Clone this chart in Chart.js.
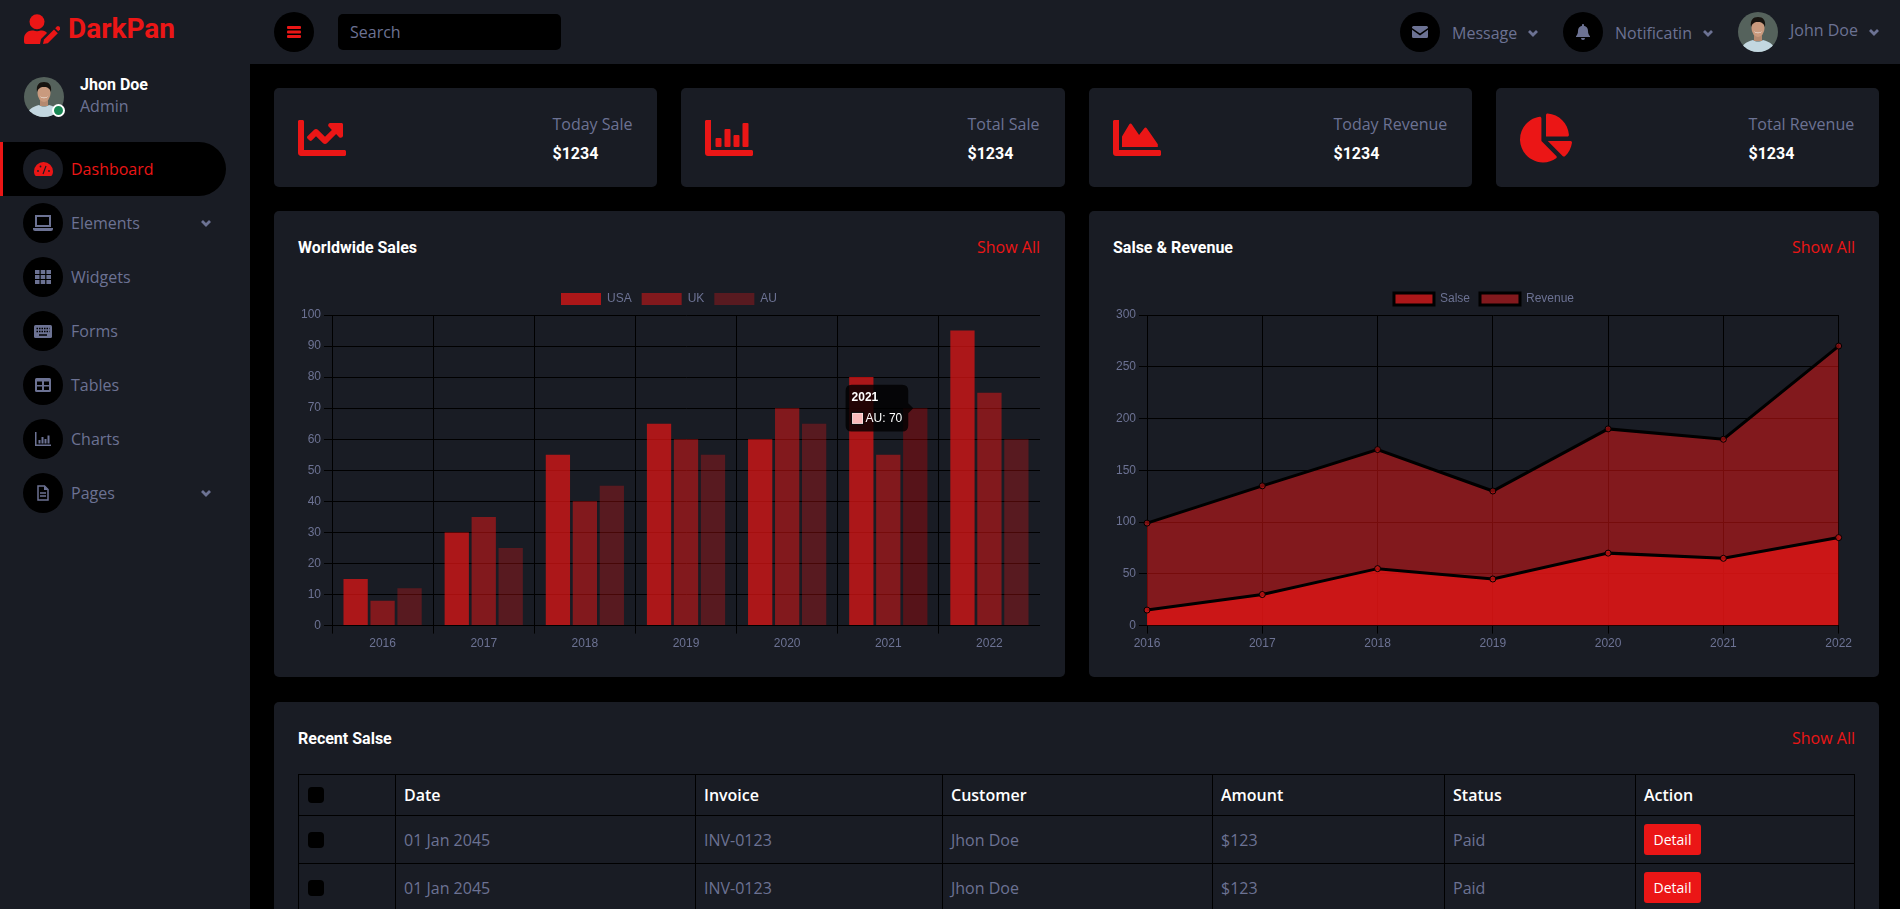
<!DOCTYPE html>
<html lang="en"><head><meta charset="utf-8"><title>DarkPan</title>
<script src="https://cdn.jsdelivr.net/npm/chart.js@4/dist/chart.umd.min.js"></script>
<style>
*{box-sizing:border-box}
html,body{margin:0;height:909px;width:1900px;overflow:hidden;background:#000;font:400 16px/1.5 "Open Sans",sans-serif;color:#6C7293}
.abs,.card,.t,.ic,.circle{position:absolute}
.bar{background:#191C24}
.card{background:#191C24;border-radius:5px}
.t{white-space:nowrap;line-height:24px}
.h{font-family:Roboto,sans-serif;font-weight:700;color:#fff;line-height:20px}
.red{color:#EB1616}
.circle{width:40px;height:40px;border-radius:50%;background:#000;display:flex;align-items:center;justify-content:center}
svg{display:block}
.canv{position:absolute;width:742px;height:371px}
table{position:absolute;left:298px;top:774px;width:1557px;border-collapse:collapse;table-layout:fixed}
th,td{border:1px solid #000;padding:6px 8px;text-align:left;vertical-align:middle}
th{color:#fff;font-weight:600;height:41px}
td{height:48px}
.cb{display:block;width:16px;height:16px;background:#000;border-radius:4px;margin-left:1px}
.btn{display:inline-block;width:57px;height:31px;line-height:31px;text-align:center;background:#EB1616;color:#fff;font-size:14px;border-radius:3px;vertical-align:middle}
</style></head><body>
<div class="abs bar" style="left:0;top:0;width:250px;height:909px"></div>
<div class="abs bar" style="left:250px;top:0;width:1650px;height:64px"></div>

<!-- logo -->
<svg class="abs" style="left:24px;top:14px" width="36" height="30" viewBox="0 0 36 30"><circle cx="13" cy="7.700" r="7.500" fill="#EB1616"/><path d="M2 30a2 2 0 0 1-2-2v-3c0-5.500 4-8.500 8-8.500h1.500c2 1 5 1 7 0H18c2 0 4 1 5 2.500l-6 6-1 5z" fill="#EB1616"/><path d="M19 30l1-4.500 10-10 3.800 3.800-10 10z" fill="#EB1616"/><path d="M31.200 14.200l1.800-1.700a1.500 1.500 0 0 1 2 0l1 1a1.500 1.500 0 0 1 0 2L34.300 17.200z" fill="#EB1616"/></svg>
<div class="t" style="left:68px;top:14px;font:700 28px/30px Roboto,sans-serif;color:#EB1616">DarkPan</div>

<!-- top bar -->
<div class="circle" style="left:274px;top:12px"><svg width="14" height="12"><rect width="14" height="3" rx="1" fill="#EB1616"/><rect y="4.500" width="14" height="3" rx="1" fill="#EB1616"/><rect y="9" width="14" height="3" rx="1" fill="#EB1616"/></svg></div>
<div class="abs" style="left:338px;top:14px;width:223px;height:36px;background:#000;border-radius:5px"></div>
<div class="t" style="left:350px;top:20px">Search</div>

<div class="circle" style="left:1400px;top:12px"><svg width="16" height="12" viewBox="0 0 16 12"><path d="M1.500 0h13A1.500 1.500 0 0 1 16 1.500v.4L8 7.600 0 1.900v-.4A1.500 1.500 0 0 1 1.500 0z" fill="#6C7293"/><path d="M0 3.800l8 5.600 8-5.600v6.700a1.500 1.500 0 0 1-1.500 1.500h-13A1.500 1.500 0 0 1 0 10.500z" fill="#6C7293"/></svg></div>
<div class="t" style="left:1452px;top:21px">Message</div>
<svg class="abs" style="left:1528px;top:29px" width="10" height="8" viewBox="0 0 10 8"><path d="M1 2l4 4 4-4" stroke="#6C7293" stroke-width="2.800" fill="none"/></svg>
<div class="circle" style="left:1563px;top:12px"><svg width="14" height="16" viewBox="0 0 14 16"><path d="M7 0c.7 0 1 .5 1 1v.8c2.500.5 4 2.500 4 5 0 3 .8 4 2 5.500v.7H0v-.7c1.200-1.500 2-2.500 2-5.500 0-2.500 1.500-4.500 4-5V1c0-.5.3-1 1-1zM5 14h4a2 2 0 0 1-4 0z" fill="#6C7293"/></svg></div>
<div class="t" style="left:1615px;top:21px">Notificatin</div>
<svg class="abs" style="left:1703px;top:29px" width="10" height="8" viewBox="0 0 10 8"><path d="M1 2l4 4 4-4" stroke="#6C7293" stroke-width="2.800" fill="none"/></svg>
<svg class="abs" style="left:1738px;top:12px" width="40" height="40" viewBox="0 0 40 40"><defs><clipPath id="a1"><circle cx="20" cy="20" r="20"/></clipPath></defs><g clip-path="url(#a1)"><rect width="40" height="40" fill="#55625c"/><path d="M2 40c1-7 6-10 13-12 3 2 7 2 10 0 7 2 12 5 13 12z" fill="#c3d7e0"/><rect x="16" y="21" width="8" height="8" fill="#b58a70"/><ellipse cx="20" cy="16" rx="6.500" ry="9" fill="#c99a7e"/><path d="M13 15c-1-7 2-10 7-10s8 3 7 10c-1-3-3-5-7-5s-6 2-7 5z" fill="#17130f"/><path d="M16 19c2 2 6 2 8 0-1 3-7 3-8 0z" fill="#f2ece6"/></g></svg>
<div class="t" style="left:1790px;top:18px">John Doe</div>
<svg class="abs" style="left:1869px;top:28px" width="10" height="8" viewBox="0 0 10 8"><path d="M1 2l4 4 4-4" stroke="#6C7293" stroke-width="2.800" fill="none"/></svg>

<!-- sidebar profile -->
<svg class="abs" style="left:24px;top:77px" width="40" height="40" viewBox="0 0 40 40"><defs><clipPath id="a2"><circle cx="20" cy="20" r="20"/></clipPath></defs><g clip-path="url(#a2)"><rect width="40" height="40" fill="#55625c"/><path d="M2 40c1-7 6-10 13-12 3 2 7 2 10 0 7 2 12 5 13 12z" fill="#c3d7e0"/><rect x="16" y="21" width="8" height="8" fill="#b58a70"/><ellipse cx="20" cy="16" rx="6.500" ry="9" fill="#c99a7e"/><path d="M13 15c-1-7 2-10 7-10s8 3 7 10c-1-3-3-5-7-5s-6 2-7 5z" fill="#17130f"/><path d="M16 19c2 2 6 2 8 0-1 3-7 3-8 0z" fill="#f2ece6"/></g></svg>
<div class="abs" style="left:52px;top:104px;width:13px;height:13px;border-radius:50%;background:#198754;border:2px solid #fff"></div>
<div class="t h" style="left:80px;top:75px">Jhon Doe</div>
<div class="t" style="left:80px;top:94px">Admin</div>

<!-- side nav -->
<div class="abs" style="left:0;top:142px;width:226px;height:54px;background:#000;border-left:3px solid #EB1616;border-radius:0 30px 30px 0"></div>
<div class="circle" style="left:23px;top:149px;background:#191C24"><svg width="19" height="14" viewBox="0 0 19 14"><path d="M9.500 0A9.500 9.500 0 0 0 0 9.500c0 1.500.5 3 1.200 4 .2.300.5.500.8.500h15c.3 0 .6-.2.800-.5.700-1 1.200-2.500 1.200-4A9.500 9.500 0 0 0 9.500 0z" fill="#EB1616"/><path d="M9 12l3-8" stroke="#191C24" stroke-width="1.200"/><circle cx="4" cy="9" r=".9" fill="#191C24"/><circle cx="6.500" cy="4.500" r=".9" fill="#191C24"/><circle cx="15" cy="9" r=".9" fill="#191C24"/></svg></div>
<div class="t red" style="left:71px;top:157px">Dashboard</div>

<div class="circle" style="left:23px;top:203px"><svg width="20" height="16" viewBox="0 0 20 16"><path d="M3 1h14v10H3z" fill="none" stroke="#6C7293" stroke-width="2"/><path d="M0 13h20v1a2 2 0 0 1-2 2H2a2 2 0 0 1-2-2z" fill="#6C7293"/></svg></div>
<div class="t" style="left:71px;top:211px">Elements</div>
<svg class="abs" style="left:201px;top:219px" width="10" height="8" viewBox="0 0 10 8"><path d="M1 2l4 4 4-4" stroke="#6C7293" stroke-width="2.800" fill="none"/></svg>

<div class="circle" style="left:23px;top:257px"><svg width="16" height="14" viewBox="0 0 16 14" fill="#6C7293"><rect width="4.500" height="4"/><rect x="5.700" width="4.500" height="4"/><rect x="11.400" width="4.600" height="4"/><rect y="5" width="4.500" height="4"/><rect x="5.700" y="5" width="4.500" height="4"/><rect x="11.400" y="5" width="4.600" height="4"/><rect y="10" width="4.500" height="4"/><rect x="5.700" y="10" width="4.500" height="4"/><rect x="11.400" y="10" width="4.600" height="4"/></svg></div>
<div class="t" style="left:71px;top:265px">Widgets</div>

<div class="circle" style="left:23px;top:311px"><svg width="18" height="13" viewBox="0 0 18 13"><rect width="18" height="13" rx="1.500" fill="#6C7293"/><path d="M2.500 3.500h13M2.500 6.500h13" stroke="#000" stroke-width="1.500" stroke-dasharray="1.500 1"/><path d="M5 10h8" stroke="#000" stroke-width="1.500"/></svg></div>
<div class="t" style="left:71px;top:319px">Forms</div>

<div class="circle" style="left:23px;top:365px"><svg width="16" height="14" viewBox="0 0 16 14"><rect width="16" height="14" rx="1.500" fill="#6C7293"/><rect x="2" y="3.500" width="5" height="3.500" fill="#000"/><rect x="9" y="3.500" width="5" height="3.500" fill="#000"/><rect x="2" y="8.500" width="5" height="3.500" fill="#000"/><rect x="9" y="8.500" width="5" height="3.500" fill="#000"/></svg></div>
<div class="t" style="left:71px;top:373px">Tables</div>

<div class="circle" style="left:23px;top:419px"><svg width="16" height="14" viewBox="0 0 16 14" fill="#6C7293"><path d="M0 0h1.500v12.500H16V14H0z"/><rect x="3.500" y="8" width="2" height="3.500"/><rect x="6.500" y="5" width="2" height="6.500"/><rect x="9.500" y="7" width="2" height="4.500"/><rect x="12.500" y="3.500" width="2" height="8"/></svg></div>
<div class="t" style="left:71px;top:427px">Charts</div>

<div class="circle" style="left:23px;top:473px"><svg width="12" height="16" viewBox="0 0 12 16"><path d="M1 1h6.500L11 4.500V15H1z" fill="none" stroke="#6C7293" stroke-width="1.500"/><path d="M3 8h6M3 11h6" stroke="#6C7293" stroke-width="1.400"/><path d="M7 1v4h4" fill="#6C7293"/></svg></div>
<div class="t" style="left:71px;top:481px">Pages</div>
<svg class="abs" style="left:201px;top:489px" width="10" height="8" viewBox="0 0 10 8"><path d="M1 2l4 4 4-4" stroke="#6C7293" stroke-width="2.800" fill="none"/></svg>

<!-- stat cards -->
<div class="card" style="left:274px;top:88px;width:383px;height:99px"></div>
<div class="card" style="left:681px;top:88px;width:384px;height:99px"></div>
<div class="card" style="left:1089px;top:88px;width:383px;height:99px"></div>
<div class="card" style="left:1496px;top:88px;width:383px;height:99px"></div>

<svg class="abs" style="left:298px;top:114px" width="48" height="48" viewBox="0 0 512 512"><path fill="#EB1616" d="M496 384H64V80c0-8.840-7.160-16-16-16H16C7.160 64 0 71.160 0 80v336c0 17.670 14.330 32 32 32h464c8.840 0 16-7.160 16-16v-32c0-8.840-7.160-16-16-16zM464 96H345.940c-21.380 0-32.090 25.850-16.970 40.970l32.400 32.400L288 242.750l-73.370-73.370c-12.500-12.500-32.760-12.500-45.250 0l-68.690 68.690c-6.250 6.250-6.250 16.380 0 22.630l22.620 22.620c6.250 6.250 16.380 6.250 22.630 0L192 237.250l73.370 73.370c12.500 12.500 32.760 12.500 45.250 0l96-96 32.400 32.400c15.120 15.120 40.970 4.410 40.970-16.970V112c.01-8.840-7.150-16-15.990-16z"/></svg>
<svg class="abs" style="left:705px;top:114px" width="48" height="48" viewBox="0 0 512 512" fill="#EB1616"><path d="M16 64h48v320h432c9 0 16 7 16 16v32c0 9-7 16-16 16H32c-18 0-32-14-32-32V80c0-9 7-16 16-16z"/><rect x="112" y="256" width="64" height="96" rx="10"/><rect x="208" y="160" width="64" height="192" rx="10"/><rect x="304" y="224" width="64" height="128" rx="10"/><rect x="400" y="96" width="64" height="256" rx="10"/></svg>
<svg class="abs" style="left:1113px;top:114px" width="48" height="48" viewBox="0 0 512 512" fill="#EB1616"><path d="M16 64h48v320h432c9 0 16 7 16 16v32c0 9-7 16-16 16H32c-18 0-32-14-32-32V80c0-9 7-16 16-16z"/><path d="M96 352V240l78-130c6-10 20-10 26-1l78 116 56-74c7-9 20-8 26 1l118 170v30z"/></svg>
<svg class="abs" style="left:1520px;top:113px" width="52" height="50" viewBox="0 0 544 512" fill="#EB1616"><path d="M527.790 288H290.500l158.030 158.030c6.040 6.040 15.980 6.530 22.190.68 38.700-36.460 65.320-85.610 73.130-140.860 1.340-9.460-6.510-17.850-16.060-17.850zm-15.830-64.800C503.720 103.740 408.260 8.280 288.800.04 279.680-.59 272 7.100 272 16.240V240h223.770c9.140 0 16.820-7.680 16.190-16.800zM224 288V50.710c0-9.550-8.390-17.400-17.840-16.060C86.990 51.490-4.100 155.600.14 280.370 4.500 408.510 114.830 513.590 243.030 511.980c50.400-.63 96.970-16.870 135.260-44.030 7.900-5.600 8.420-17.230 1.570-24.080L224 288z"/></svg>

<div class="t" style="left:552.500px;top:112px">Today Sale</div><div class="t h" style="left:552.500px;top:144px">$1234</div>
<div class="t" style="left:967.500px;top:112px">Total Sale</div><div class="t h" style="left:967.500px;top:144px">$1234</div>
<div class="t" style="left:1333.500px;top:112px">Today Revenue</div><div class="t h" style="left:1333.500px;top:144px">$1234</div>
<div class="t" style="left:1748.500px;top:112px">Total Revenue</div><div class="t h" style="left:1748.500px;top:144px">$1234</div>

<!-- chart cards -->
<div class="card" style="left:274px;top:211px;width:791px;height:466px"></div>
<div class="card" style="left:1089px;top:211px;width:790px;height:466px"></div>
<div class="t h" style="left:298px;top:238px">Worldwide Sales</div>
<div class="t red" style="right:860px;top:235px">Show All</div>
<div class="t h" style="left:1113px;top:238px">Salse &amp; Revenue</div>
<div class="t red" style="right:45px;top:235px">Show All</div>
<div class="canv" style="left:298px;top:283px"><canvas id="worldwide"></canvas></div>
<div class="canv" style="left:1113px;top:283px"><canvas id="salse"></canvas></div>

<!-- table card -->
<div class="card" style="left:274px;top:702px;width:1605px;height:260px"></div>
<div class="t h" style="left:298px;top:729px">Recent Salse</div>
<div class="t red" style="right:45px;top:726px">Show All</div>
<table id="tbl"></table>

<script>
const years = ['2016','2017','2018','2019','2020','2021','2022'];
const usaValues = [15,30,55,65,60,80,95];
const ukValues = [8,35,40,60,70,55,75];
const auValues = [12,25,45,55,65,70,60];
const salseValues = [15,30,55,45,70,65,85];
const revenueValues = [99,135,170,130,190,180,270];
const tableHeaders = ['', 'Date','Invoice','Customer','Amount','Status','Action'];
const tableRow = ['01 Jan 2045','INV-0123','Jhon Doe','$123','Paid'];
const columnWidths = [97,300,247,270,232,191,219];

document.getElementById('tbl').style.width = columnWidths.reduce((a,b)=>a+b) + 'px';
document.getElementById('tbl').innerHTML =
  '<colgroup>' + columnWidths.map(w => `<col style="width:${w}px">`).join('') + '</colgroup>' +
  '<thead><tr>' + tableHeaders.map((h,i) => `<th>${i ? h : '<span class="cb"></span>'}</th>`).join('') + '</tr></thead>' +
  '<tbody>' + [0,1,2].map(() => '<tr><td><span class="cb"></span></td>' + tableRow.map(c => `<td>${c}</td>`).join('') + '<td><span class="btn">Detail</span></td></tr>').join('') + '</tbody>';

Chart.defaults.color = '#6C7293';
Chart.defaults.borderColor = '#000000';
Chart.defaults.animation = false;

const bar = new Chart(document.getElementById('worldwide'), {
  type: 'bar',
  data: { labels: years, datasets: [
    { label: 'USA', data: usaValues, backgroundColor: 'rgba(235,22,22,.7)' },
    { label: 'UK', data: ukValues, backgroundColor: 'rgba(235,22,22,.5)' },
    { label: 'AU', data: auValues, backgroundColor: 'rgba(235,22,22,.3)' }
  ]},
  options: { responsive: true, maintainAspectRatio: false, events: [] }
});
const active = [{ datasetIndex: 2, index: 5 }];
bar.setActiveElements(active);
bar.tooltip.setActiveElements(active, { x: 0, y: 0 });
bar.update();

new Chart(document.getElementById('salse'), {
  type: 'line',
  data: { labels: years, datasets: [
    { label: 'Salse', data: salseValues, backgroundColor: 'rgba(235,22,22,.7)', fill: true },
    { label: 'Revenue', data: revenueValues, backgroundColor: 'rgba(235,22,22,.5)', fill: true }
  ]},
  options: { responsive: true, maintainAspectRatio: false, events: [] }
});
</script>
</body></html>
